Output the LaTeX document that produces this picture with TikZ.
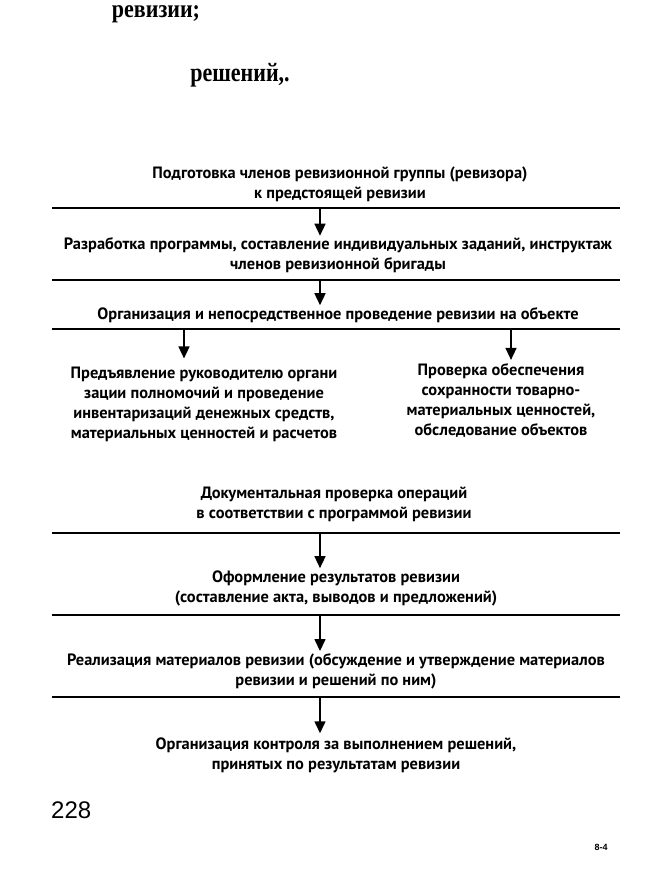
\documentclass[tikz,border=0pt]{standalone}
\usepackage{fontspec}
\setmainfont{PT Sans}
\newfontfamily\serifb{Liberation Serif}
\newfontfamily\helv{Liberation Sans}
\usetikzlibrary{arrows.meta}
\begin{document}
\begin{tikzpicture}[x=1pt,y=-1pt,
 lbl/.style={font=\bfseries\fontsize{16.4}{20}\selectfont, align=center, inner sep=0pt},
 ruleline/.style={line width=2.6pt},
 arr/.style={line width=1.5pt, -{Triangle[length=12pt,width=11pt]}},
 toptext/.style={font=\serifb\bfseries\fontsize{22}{26}\selectfont, inner sep=0pt, anchor=base}]
\useasboundingbox[fill=white] (0,0) rectangle (667,880);

\node[toptext] (h1) at (156,18) {\scalebox{1}[1.15]{ревизии;}};
\node[toptext] (h2) at (240,82) {\scalebox{1}[1.2]{решений,.}};

\node[lbl] (t1) at (340,184.5) {Подготовка членов ревизионной группы (ревизора)\\к предстоящей ревизии};
\coordinate (r1a) at (52,208); \coordinate (r1b) at (620,208);
\draw[ruleline] (r1a) -- (r1b);
\coordinate (r1) at (320,208);

\node[lbl] (t2) at (338,255.5) {Разработка программы, составление индивидуальных заданий, инструктаж\\членов ревизионной бригады};
\coordinate (r2a) at (52,280); \coordinate (r2b) at (620,280);
\draw[ruleline] (r2a) -- (r2b);
\coordinate (r2) at (320,280);

\node[lbl] (t3) at (338,315) {Организация и непосредственное проведение ревизии на объекте};
\coordinate (r3a) at (52,329); \coordinate (r3b) at (620,329);
\draw[ruleline] (r3a) -- (r3b);
\coordinate (r3l) at (184,329);
\coordinate (r3r) at (511,329);

\node[lbl] (b1) at (204,404) {Предъявление руководителю органи\\зации полномочий и проведение\\инвентаризаций денежных средств,\\материальных ценностей и расчетов};
\node[lbl] (b2) at (501,400) {Проверка обеспечения\\сохранности товарно-\\материальных ценностей,\\обследование объектов};

\node[lbl] (t4) at (334,504) {Документальная проверка операций\\в соответствии с программой ревизии};
\coordinate (r4a) at (52,533); \coordinate (r4b) at (620,533);
\draw[ruleline] (r4a) -- (r4b);
\coordinate (r4) at (320,533);

\node[lbl] (t5) at (336,588) {Оформление результатов ревизии\\(составление акта, выводов и предложений)};
\coordinate (r5a) at (52,615); \coordinate (r5b) at (620,615);
\draw[ruleline] (r5a) -- (r5b);
\coordinate (r5) at (320,615);

\node[lbl] (t6) at (336,671) {Реализация материалов ревизии (обсуждение и утверждение материалов\\ревизии и решений по ним)};
\coordinate (r6a) at (52,697); \coordinate (r6b) at (620,697);
\draw[ruleline] (r6a) -- (r6b);
\coordinate (r6) at (320,697);

\node[lbl] (t7) at (336,755) {Организация контроля за выполнением решений,\\принятых по результатам ревизии};

\draw[arr] (r1) -- ([yshift=2pt]r1 |- t2.north);
\draw[arr] (r2) -- ([yshift=2pt]r2 |- t3.north);
\draw[arr] (r3l) -- ([yshift=8pt]r3l |- b1.north);
\draw[arr] (r3r) -- ([yshift=3pt]r3r |- b2.north);
\draw[arr] (r4) -- ([yshift=2pt]r4 |- t5.north);
\draw[arr] (r5) -- ([yshift=2pt]r5 |- t6.north);
\draw[arr] (r6) -- ([yshift=4pt]r6 |- t7.north);

\node[font=\helv\fontsize{24}{28}\selectfont, inner sep=0pt, anchor=west] (pg) at (51,810) {228};
\node[font=\helv\bfseries\fontsize{9}{11}\selectfont, inner sep=0pt] (cd) at (601,847) {8-4};
\end{tikzpicture}
\end{document}
